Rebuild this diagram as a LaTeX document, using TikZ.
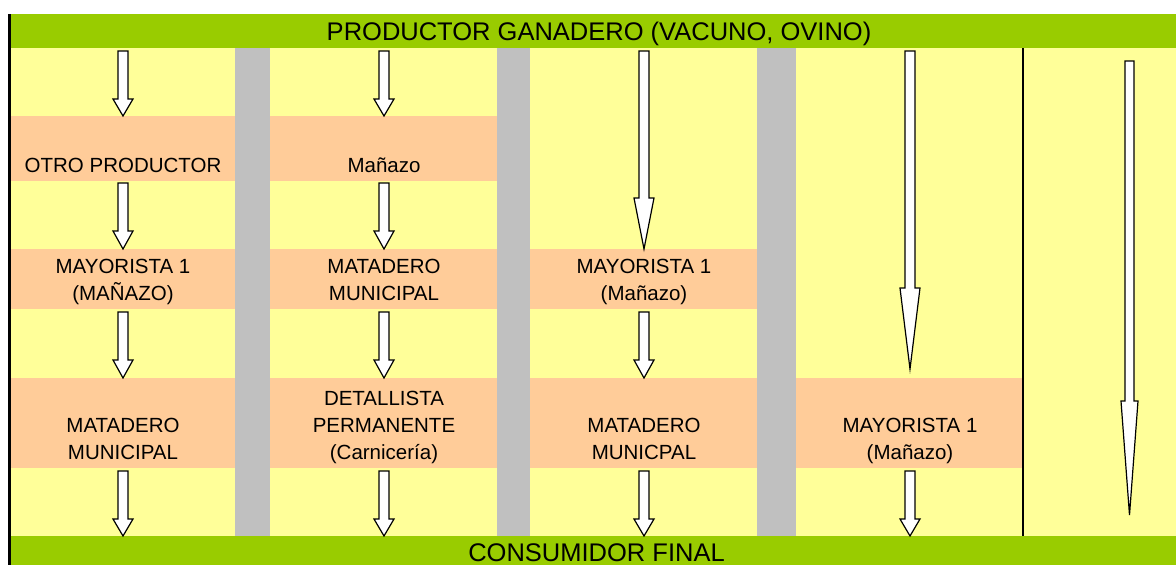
\documentclass[tikz,border=0pt]{standalone}
\usepackage{fontspec}
\setmainfont{Liberation Sans}
\definecolor{bargreen}{HTML}{99CC00}
\definecolor{cellyellow}{HTML}{FFFF99}
\definecolor{cellorange}{HTML}{FFCC99}
\definecolor{colgray}{HTML}{C0C0C0}
\newcommand\stk[1]{\begin{tabular}[b]{@{}c@{}}#1\end{tabular}}
% block arrow: x, top, head start, tip, shaft half width, head half width
\newcommand\barrow[6]{%
  \draw[blockarrow] (#1-#5,#2) -- (#1+#5,#2) -- (#1+#5,#3) -- (#1+#6,#3) -- (#1,#4)
    -- (#1-#6,#3) -- (#1-#5,#3) -- cycle;}
\tikzset{
  blockarrow/.style={draw=black, fill=white, line width=1.2pt, line join=miter},
  lbl/.style={anchor=base, inner sep=0pt, text=black,
    font=\fontsize{20.5}{27}\selectfont},
  ttl/.style={anchor=base, inner sep=0pt, text=black,
    font=\fontsize{25.5}{30}\selectfont},
}
\begin{document}
\begin{tikzpicture}[x=1pt,y=-1pt]
\useasboundingbox (0,0) rectangle (1176,565);
% backgrounds
\fill[cellyellow] (11,48) rectangle (1176,536);
\fill[cellorange] (11,116) rectangle (497,181);
\fill[cellorange] (11,249) rectangle (757,309);
\fill[cellorange] (11,378) rectangle (1023,468);
\fill[colgray] (235,48) rectangle (270,536);
\fill[colgray] (497,48) rectangle (530,536);
\fill[colgray] (757,48) rectangle (796,536);
\fill[bargreen] (11,14) rectangle (1176,48);
\fill[bargreen] (11,536) rectangle (1176,565);
\fill[black] (8,14) rectangle (11,565);
\draw[black, line width=1.6pt] (1023,48) -- (1023,536);
% titles
\node[ttl] (prod) at (599,40.7) {PRODUCTOR GANADERO (VACUNO, OVINO)};
\node[ttl] (cons) at (596.5,561) {CONSUMIDOR FINAL};
% column 1
\node[lbl] (c1a) at (123,172) {\stk{OTRO PRODUCTOR}};
\node[lbl] (c1b) at (123,300) {\stk{MAYORISTA 1\\(MAÑAZO)}};
\node[lbl] (c1c) at (123,459) {\stk{MATADERO\\MUNICIPAL}};
% column 2
\node[lbl] (c2a) at (384,172) {\stk{Mañazo}};
\node[lbl] (c2b) at (384,300) {\stk{MATADERO\\MUNICIPAL}};
\node[lbl] (c2c) at (384,459) {\stk{DETALLISTA\\PERMANENTE\\(Carnicería)}};
% column 3
\node[lbl] (c3b) at (644,300) {\stk{MAYORISTA 1\\(Mañazo)}};
\node[lbl] (c3c) at (644,459) {\stk{MATADERO\\MUNICPAL}};
% column 4
\node[lbl] (c4c) at (910,459) {\stk{MAYORISTA 1\\(Mañazo)}};
% arrows column 1
\barrow{123}{51}{99}{116}{5}{10}
\barrow{123}{183}{231}{249}{5}{10}
\barrow{123}{312}{360}{378}{5}{10}
\barrow{123}{471}{519}{536}{5}{10}
% arrows column 2
\barrow{384}{51}{99}{116}{5}{10}
\barrow{384}{183}{231}{249}{5}{10}
\barrow{384}{312}{360}{378}{5}{10}
\barrow{384}{471}{519}{536}{5}{10}
% arrows column 3
\barrow{644}{51}{198}{249}{5}{10}
\barrow{644}{312}{360}{378}{5}{10}
\barrow{644}{471}{519}{536}{5}{10}
% arrows column 4
\barrow{910}{51}{288}{369}{5}{10}
\barrow{910}{471}{519}{536}{5}{10}
% arrow column 5
\barrow{1129.5}{61}{401}{515}{4.5}{8.5}
\end{tikzpicture}
\end{document}
